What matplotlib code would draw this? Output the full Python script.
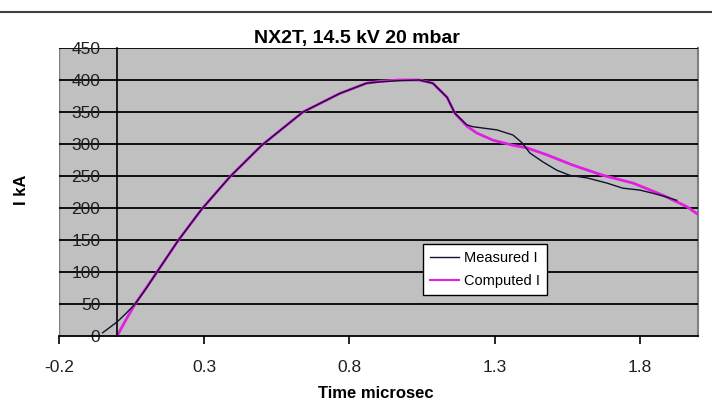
import matplotlib
matplotlib.use("Agg")
import matplotlib.pyplot as plt
from matplotlib.lines import Line2D

# ---- data ----
meas_t = [-0.05, 0.0, 0.03, 0.062, 0.10, 0.136, 0.21, 0.291, 0.389, 0.498, 0.64, 0.767,
          0.859, 0.905, 0.97, 1.04, 1.087, 1.136, 1.163, 1.204, 1.225, 1.308, 1.363,
          1.394, 1.421, 1.466, 1.514, 1.559, 1.618, 1.686, 1.741, 1.80, 1.845, 1.893, 1.927]
meas_i = [5, 22, 35, 50, 74, 99, 149, 198, 249, 298, 350, 379,
          395, 397, 399, 400, 395, 373, 348, 330, 327, 322, 314,
          302, 286, 272, 259, 251, 247, 239, 231, 228, 223, 217, 212]

comp_t = [0.0, 0.03, 0.062, 0.136, 0.21, 0.291, 0.389, 0.498, 0.64, 0.767, 0.859, 0.905,
          0.97, 1.04, 1.087, 1.136, 1.163, 1.204, 1.239, 1.294, 1.363, 1.411, 1.48,
          1.569, 1.673, 1.776, 1.879, 1.962, 2.0]
comp_i = [0, 25, 50, 99, 149, 198, 249, 298, 350, 379, 395, 398,
          400, 400, 395, 373, 348, 328, 317, 306, 298, 294, 283,
          267, 251, 239, 220, 202, 190]

x_ticks = [-0.2, 0.3, 0.8, 1.3, 1.8]
x_tick_labels = ["-0.2", "0.3", "0.8", "1.3", "1.8"]
y_ticks = [0, 50, 100, 150, 200, 250, 300, 350, 400, 450]

title = "NX2T, 14.5 kV 20 mbar"
xlabel = "Time microsec"
ylabel = "I kA"
legend_labels = ["Measured I", "Computed I"]

plt.rcParams['font.family'] = ['Liberation Sans', 'DejaVu Sans']

W, H = 712, 407
fig = plt.figure(figsize=(W / 100, H / 100), dpi=100)
fig.patch.set_facecolor("white")

L, R, T, B = 59, 698, 48, 336
ax = fig.add_axes([L / W, 1 - B / H, (R - L) / W, (B - T) / H])
ax.set_facecolor("#c0c0c0")
ax.set_xlim(-0.2, 2.0)
ax.set_ylim(0, 450)

for y in y_ticks[1:]:
    ax.axhline(y, color="black", lw=1.3, zorder=1)

ax.plot(comp_t, comp_i, color="#e020e0", lw=2.0, zorder=2, solid_joinstyle="round")
ax.plot(meas_t, meas_i, color="#101030", lw=1.0, zorder=3)

for s in ["top", "right"]:
    ax.spines[s].set_visible(False)
ax.spines["left"].set_position(("data", 0))
ax.spines["left"].set_color("black")
ax.spines["left"].set_linewidth(1.2)
ax.spines["bottom"].set_color("black")
ax.spines["bottom"].set_linewidth(1.3)
ax.axvline(-0.2, color="#808080", lw=1.0, zorder=0.5)
ax.axvline(2.0, color="#808080", lw=1.5, zorder=0.5, clip_on=False)

ax.set_xticks(x_ticks)
ax.set_xticklabels(x_tick_labels, fontsize=12.5, color="#202020")
ax.set_yticks(y_ticks)
ax.set_yticklabels([str(v) for v in y_ticks], fontsize=12.5, color="#202020")
ax.tick_params(axis="x", direction="out", length=6, width=1.2, pad=11)
ax.tick_params(axis="y", direction="out", length=0, pad=12)

fig.text(357 / W, 1 - 39 / H, title, ha="center", va="center",
         fontsize=14, fontweight="bold")
fig.text(376 / W, 1 - 393 / H, xlabel, ha="center", va="center",
         fontsize=12, fontweight="bold")
fig.text(22 / W, 1 - 190 / H, ylabel, ha="center", va="center", rotation=90,
         fontsize=12, fontweight="bold")

handles = [Line2D([], [], color="#101030", lw=1.0), Line2D([], [], color="#e020e0", lw=1.5)]
leg = fig.legend(handles, legend_labels, loc="upper left",
                 bbox_to_anchor=(423 / W, 1 - 244 / H), fontsize=10.5,
                 frameon=True, fancybox=False, framealpha=1, edgecolor="black",
                 handlelength=2.0, handletextpad=0.3, borderpad=0.5, labelspacing=0.6,
                 borderaxespad=0)
leg.get_frame().set_linewidth(1.0)

fig.add_artist(Line2D([0, 1], [1 - 12 / H, 1 - 12 / H], color="#404040", lw=1.5,
                      transform=fig.transFigure))

fig.savefig("out.png", dpi=100)
